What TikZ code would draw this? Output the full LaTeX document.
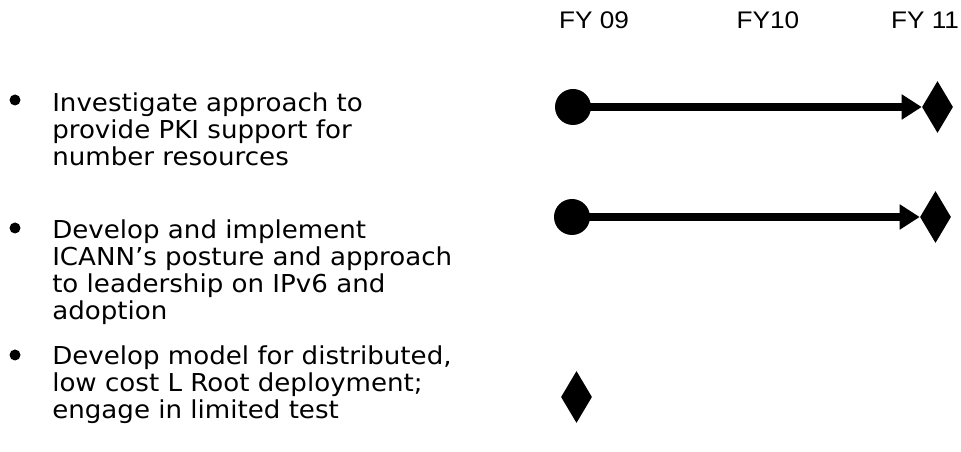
\documentclass[tikz,border=0pt]{standalone}
\usepackage{fontspec}
\setmainfont{DejaVu Sans}
\newfontfamily\itemfont[FakeStretch=1.058]{DejaVu Sans}
\newfontfamily\fyfont[FakeStretch=1.09]{Liberation Sans}
\usetikzlibrary{shapes.geometric,arrows.meta}
\begin{document}
\begin{tikzpicture}[x=0.75pt,y=-0.75pt,
  item/.style={anchor=base west, align=left, inner sep=0pt,
    font=\itemfont\fontsize{18.5pt}{20.25pt}\selectfont},
  fy/.style={anchor=base, inner sep=0pt, font=\fyfont\fontsize{18pt}{20pt}\selectfont},
  bul/.style={circle, fill=black, minimum size=8.25pt, inner sep=0pt},
  startpt/.style={circle, fill=black, minimum size=27pt, inner sep=0pt},
  mile/.style={diamond, fill=black, minimum width=23.25pt, minimum height=39pt, inner sep=0pt},
  bar/.style={line width=6pt, -{Triangle[length=15pt,width=18pt]}}]
\useasboundingbox (0,0) rectangle (961,452);
% year labels
\node[fy] (fy9) at (594,29) {FY 09};
\node[fy] (fy10) at (768,29) {FY10};
\node[fy] (fy11) at (925,29) {FY 11};
% bullets and items (anchor = baseline of the last line)
\node[bul] (b1) at (15,100) {};
\node[item] (t1) at (52,166) {Investigate approach to\\provide PKI support for\\number resources};
\node[bul] (b2) at (15,228) {};
\node[item] (t2) at (52,320) {Develop and implement\\ICANN’s posture and approach\\to leadership on IPv6 and\\adoption};
\node[bul] (b3) at (15,355) {};
\node[item] (t3) at (52,419) {Develop model for distributed,\\low cost L Root deployment;\\engage in limited test};
% timeline row 1
\node[startpt] (s1) at (573,107) {};
\node[mile] (m1) at (937.5,107) {};
\draw[bar] (s1.center) -- (m1.west);
% timeline row 2
\node[startpt] (s2) at (572,217) {};
\node[mile] (m2) at (935.5,217) {};
\draw[bar] (s2.center) -- (m2.west);
% row 3
\node[mile] (m3) at (576.5,397) {};
\end{tikzpicture}
\end{document}
